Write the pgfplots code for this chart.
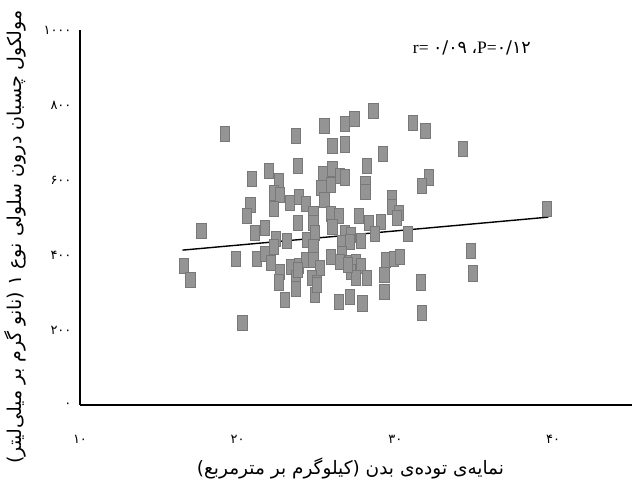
\documentclass[border=0pt]{standalone}
\usepackage{fontspec}
\setmainfont{Liberation Serif}
\newfontfamily\fa[Script=Arabic]{DejaVu Sans}
\TeXXeTstate=1
\usepackage{pgfplots}
\usepackage{pgfplotstable}
\pgfplotsset{compat=1.18}

\pgfdeclareplotmark{vrect}{%
  \pgfpathrectangle{\pgfqpoint{-4.6pt}{-7.6pt}}{\pgfqpoint{9.2pt}{15.2pt}}%
  \pgfusepathqfillstroke}

\definecolor{markfill}{RGB}{148,148,148}
\definecolor{markedge}{RGB}{120,120,120}

\pgfplotstableread{
x y
19.2 722
23.7 717
25.5 744
26.8 749
27.4 762
28.6 784
31.1 753
31.9 731
34.3 682
26.0 691
26.8 695
29.2 669
23.8 637
28.2 637
20.9 602
22.0 625
22.6 598
22.3 565
22.7 560
25.4 616
26.0 629
26.5 611
26.8 607
25.3 578
25.9 587
28.1 589
28.1 569
32.1 607
31.7 584
20.8 533
20.6 504
22.3 522
23.3 539
23.9 554
24.3 536
25.5 547
29.8 551
29.8 529
30.2 513
30.1 498
17.7 465
21.1 459
21.7 472
23.8 486
24.8 509
24.8 485
25.9 509
26.4 504
26.0 475
27.7 504
28.3 485
29.1 489
28.7 456
30.8 456
39.6 522
22.4 442
23.1 438
22.3 422
24.4 440
24.9 458
24.8 422
26.8 458
27.2 453
26.6 433
27.1 435
27.8 438
16.6 371
17.0 333
19.9 389
21.2 390
21.7 403
22.1 379
22.7 355
22.6 327
23.4 369
23.9 371
24.3 387
24.8 387
25.2 365
23.7 338
23.7 309
24.7 338
25.0 325
24.9 293
25.9 395
26.6 403
26.5 382
27.1 378
27.5 382
27.8 371
27.2 355
27.5 338
28.2 338
29.4 387
29.9 389
30.3 395
29.3 347
29.3 302
34.8 411
34.9 351
31.6 327
23.0 280
26.4 275
27.1 289
27.9 271
31.7 245
20.3 218
23.8 360
27.0 373
25.0 320
}\datatable

\begin{document}
\begin{tikzpicture}
\begin{axis}[
  width=552pt, height=375pt, scale only axis,
  xmin=10, xmax=45, ymin=0, ymax=1000,
  axis x line*=bottom, axis y line*=left,
  hide obscured x ticks=false, hide obscured y ticks=false,
  x axis line style={line width=2.6pt,-},
  y axis line style={line width=1.5pt,-},
  xtick={10,20,30,40}, xticklabels={۱۰,۲۰,۳۰,۴۰},
  ytick={0,200,400,600,800,1000},
  yticklabels={۰,۲۰۰,۴۰۰,۶۰۰,۸۰۰,۱۰۰۰},
  major tick length=0pt,
  ticklabel style={font=\fa\fontsize{13}{15}\selectfont},
  xticklabel style={yshift=-27pt},
  yticklabel style={xshift=-5pt},
  xlabel={\fa\beginR نمایه‌ی توده‌ی بدن (کیلوگرم بر مترمربع)\endR},
  xlabel style={font=\fontsize{18.5}{20}\selectfont, at={(axis description cs:0.49,-0.168)}, anchor=center},
  ylabel={\fa\beginR مولکول چسبان درون سلولی نوع ۱ (نانو گرم بر میلی‌لیتر)\endR},
  ylabel style={font=\fontsize{19}{21}\selectfont, at={(axis description cs:-0.117,0.448)}, anchor=center},
  clip=false,
]
\addplot[only marks, mark=vrect, mark options={fill=markfill, draw=markedge, line width=0.8pt}] table[x=x,y=y] {\datatable};
\addplot[black, line width=1.4pt] coordinates {(16.5,413) (39.7,501)};
\node[font=\fontsize{17.5}{19}\selectfont] at (rel axis cs:0.71,0.952) {r=\ {\fa ۰/۰۹} {\fa ،}P={\fa ۰/۱۲}};
\end{axis}
\pgfresetboundingbox
\path[use as bounding box] (-80pt,-87pt) rectangle (554pt,405pt);
\end{tikzpicture}
\end{document}
